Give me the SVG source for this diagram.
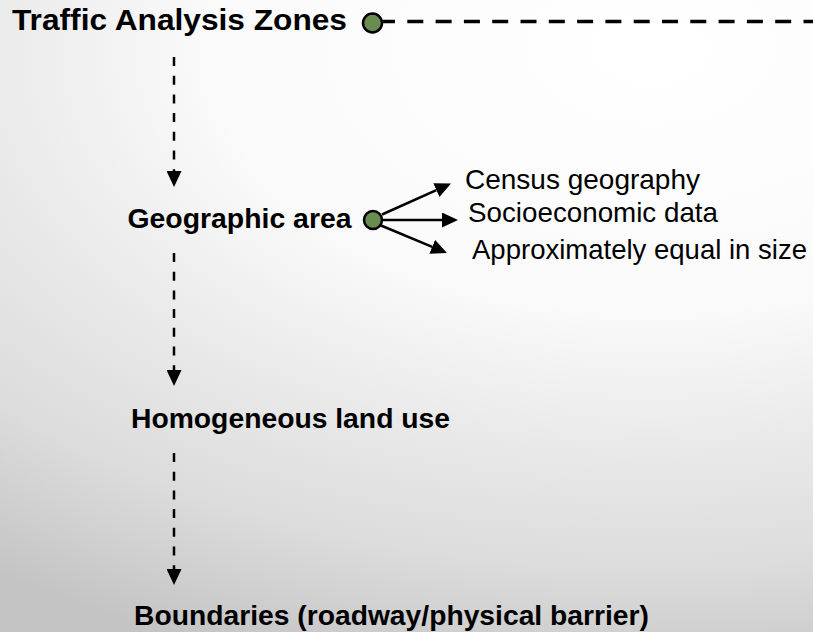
<svg xmlns="http://www.w3.org/2000/svg" width="813" height="632" viewBox="0 0 813 632">
<defs>
<radialGradient id="bg" gradientUnits="userSpaceOnUse" cx="0" cy="0" r="1" gradientTransform="translate(650 50) scale(1100 650)">
<stop offset="0" stop-color="#ffffff"/>
<stop offset="0.4" stop-color="#fafafa"/>
<stop offset="0.6" stop-color="#eaeaea"/>
<stop offset="0.8" stop-color="#dcdcdc"/>
<stop offset="1" stop-color="#c4c4c4"/>
</radialGradient>
<marker id="ah" markerUnits="userSpaceOnUse" markerWidth="16" markerHeight="15" viewBox="0 0 16 15" refX="0" refY="7.5" orient="auto">
<path d="M0,0 L16,7.5 L0,15 z" fill="#000"/>
</marker>
</defs>
<style>
.b{font-family:"Liberation Sans",Arial,sans-serif;font-weight:bold;fill:#000}
.r{font-family:"Liberation Sans",Arial,sans-serif;font-weight:normal;fill:#000}
.dot{fill:#6b8c50;stroke:#000;stroke-width:2.5}
.vd{stroke:#000;stroke-width:2.5;fill:none;stroke-dasharray:9 9.7}
.sol{stroke:#000;stroke-width:2.5;fill:none}
</style>
<rect x="0" y="0" width="813" height="632" fill="url(#bg)"/>
<g id="connectors">
<line x1="383" y1="21.5" x2="813" y2="21.5" stroke="#000" stroke-width="3.5" stroke-dasharray="16 12.3" stroke-dashoffset="4"/>
<line class="vd" x1="174" y1="57" x2="174" y2="171" marker-end="url(#ah)"/>
<line class="vd" x1="174" y1="253" x2="174" y2="370" marker-end="url(#ah)"/>
<line class="vd" x1="174" y1="453" x2="174" y2="569" marker-end="url(#ah)"/>
<line class="sol" x1="382" y1="214.5" x2="436.4" y2="190.1" marker-end="url(#ah)"/>
<line class="sol" x1="383" y1="220" x2="442" y2="220" marker-end="url(#ah)"/>
<line class="sol" x1="381" y1="225.5" x2="432.2" y2="246.8" marker-end="url(#ah)"/>
</g>
<g id="node-traffic-analysis-zones">
<text class="b" x="12" y="30" font-size="30" textLength="335" lengthAdjust="spacingAndGlyphs">Traffic Analysis Zones</text>
<circle class="dot" cx="372.5" cy="23" r="9.5"/>
</g>
<g id="node-geographic-area">
<text class="b" x="127.5" y="228" font-size="27" textLength="224" lengthAdjust="spacingAndGlyphs">Geographic area</text>
<circle class="dot" cx="373" cy="220" r="9"/>
</g>
<g id="node-census-geography">
<text class="r" x="465" y="189" font-size="28" textLength="235" lengthAdjust="spacingAndGlyphs">Census geography</text>
</g>
<g id="node-socioeconomic-data">
<text class="r" x="468" y="222" font-size="28" textLength="250" lengthAdjust="spacingAndGlyphs">Socioeconomic data</text>
</g>
<g id="node-approximately-equal">
<text class="r" x="472" y="259" font-size="28" textLength="335" lengthAdjust="spacingAndGlyphs">Approximately equal in size</text>
</g>
<g id="node-homogeneous-land-use">
<text class="b" x="131" y="428" font-size="27" textLength="319" lengthAdjust="spacingAndGlyphs">Homogeneous land use</text>
</g>
<g id="node-boundaries">
<text class="b" x="134" y="625" font-size="27" textLength="515" lengthAdjust="spacingAndGlyphs">Boundaries (roadway/physical barrier)</text>
</g>
</svg>
